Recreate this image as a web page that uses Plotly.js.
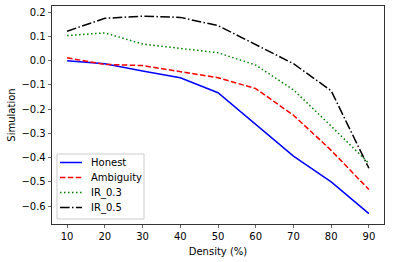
<!DOCTYPE html>
<html>
<head>
<meta charset="utf-8">
<script src="https://cdn.plot.ly/plotly-3.0.1.min.js"></script>
<style>html,body{margin:0;padding:0;background:#fff;}#chart{width:394px;height:262px;}</style>
</head>
<body>
<div id="chart"></div>
<script>
const density = [10, 20, 30, 40, 50, 60, 70, 80, 90];
const honest = [0.0, -0.012, -0.042, -0.07, -0.132, -0.265, -0.394, -0.5, -0.631];
const ambiguity = [0.012, -0.015, -0.02, -0.046, -0.07, -0.115, -0.225, -0.37, -0.532];
const ir03 = [0.104, 0.115, 0.069, 0.052, 0.033, -0.018, -0.12, -0.27, -0.424];
const ir05 = [0.122, 0.175, 0.184, 0.179, 0.145, 0.065, -0.012, -0.124, -0.444];
const seriesNames = ["Honest", "Ambiguity", "IR_0.3", "IR_0.5"];
const seriesColors = ["#0000ff", "#ff0000", "#008000", "#000000"];
const seriesDash = ["solid", "5.5px,2.4px", "1.5px,2.5px", "9.6px,2.4px,1.5px,2.4px"];

const font = {family: "DejaVu Sans", size: 10, color: "#000"};
const M = {l: 52, r: 10, t: 6, b: 38};
const W = 394, H = 262;
const PW = W - M.l - M.r, PH = H - M.t - M.b;
const px = v => (v - M.l) / PW;
const py = v => (H - M.b - v) / PH;

const series = [honest, ambiguity, ir03, ir05];
const data = series.map((y, i) => ({
  x: density, y: y, name: seriesNames[i], type: "scatter", mode: "lines",
  line: {color: seriesColors[i], width: 1.5, dash: seriesDash[i]}
}));

// manual legend (matplotlib-like compact layout)
const shapes = [{type: "rect", xref: "paper", yref: "paper",
  x0: px(57), x1: px(144), y0: py(219), y1: py(154),
  fillcolor: "rgba(255,255,255,0.8)", line: {color: "#cccccc", width: 1}}];
const annotations = [];
const rowY = [162.5, 177.5, 192.5, 207.5];
seriesNames.forEach((n, i) => {
  shapes.push({type: "line", xref: "paper", yref: "paper",
    x0: px(60), x1: px(82), y0: py(rowY[i]), y1: py(rowY[i]),
    line: {color: seriesColors[i], width: 1.5, dash: seriesDash[i]}});
  annotations.push({xref: "paper", yref: "paper", x: px(89), y: py(rowY[i]),
    xanchor: "left", yanchor: "middle", showarrow: false, text: n, font: font});
});

const layout = {
  width: W, height: H,
  margin: M,
  paper_bgcolor: "#fff", plot_bgcolor: "#fff",
  font: font,
  showlegend: false,
  shapes: shapes,
  annotations: annotations,
  xaxis: {range: [6, 94], tickvals: density, ticks: "outside", ticklen: 3.5, tickwidth: 0.8,
    showline: true, mirror: true, linecolor: "#000", linewidth: 0.8, showgrid: false, zeroline: false,
    title: {text: "Density (%)", font: font, standoff: 6}},
  yaxis: {range: [-0.674, 0.226], dtick: 0.1, tick0: 0, tickformat: ".1f", ticks: "outside", ticklen: 3.5, tickwidth: 0.8,
    showline: true, mirror: true, linecolor: "#000", linewidth: 0.8, showgrid: false, zeroline: false,
    title: {text: "Simulation", font: font, standoff: 3}}
};
Plotly.newPlot("chart", data, layout, {displayModeBar: false, staticPlot: true});
</script>
</body>
</html>
